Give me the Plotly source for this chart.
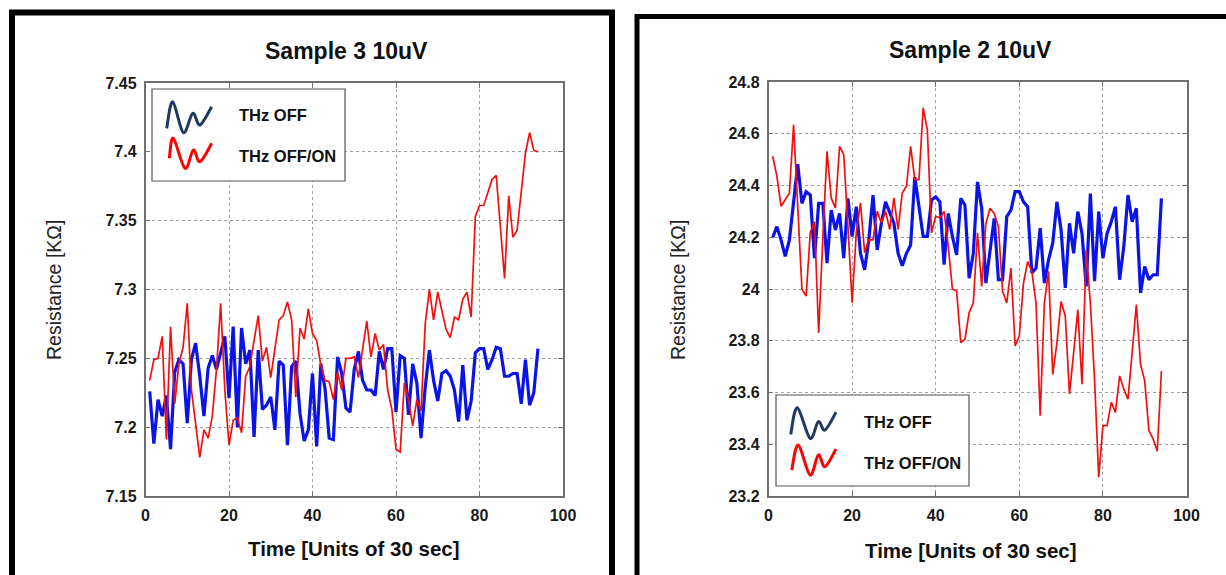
import plotly.graph_objects as go

W, H = 1226, 575

# ---------------- data ----------------
time_idx = list(range(1, 95))

s3_thz_off = [
    7.226, 7.188, 7.220, 7.208, 7.223, 7.184, 7.240, 7.249, 7.246, 7.203,
    7.249, 7.261, 7.237, 7.208, 7.243, 7.252, 7.242, 7.255, 7.266, 7.221,
    7.273, 7.200, 7.272, 7.246, 7.256, 7.193, 7.256, 7.213, 7.216, 7.222,
    7.198, 7.248, 7.245, 7.187, 7.244, 7.248, 7.210, 7.190, 7.198, 7.239,
    7.186, 7.246, 7.228, 7.192, 7.191, 7.251, 7.239, 7.214, 7.211, 7.242,
    7.255, 7.234, 7.227, 7.227, 7.223, 7.255, 7.242, 7.257, 7.257, 7.211,
    7.252, 7.250, 7.209, 7.246, 7.232, 7.192, 7.229, 7.256, 7.234, 7.219,
    7.239, 7.241, 7.237, 7.227, 7.204, 7.245, 7.205, 7.219, 7.254, 7.257,
    7.257, 7.242, 7.249, 7.258, 7.257, 7.237, 7.237, 7.239, 7.239, 7.217,
    7.249, 7.216, 7.225, 7.257,
]
s3_thz_offon = [
    7.234, 7.249, 7.250, 7.266, 7.191, 7.273, 7.217, 7.246, 7.258, 7.290,
    7.227, 7.203, 7.178, 7.198, 7.192, 7.208, 7.242, 7.290, 7.227, 7.187,
    7.205, 7.207, 7.196, 7.237, 7.244, 7.263, 7.281, 7.248, 7.258, 7.236,
    7.256, 7.278, 7.281, 7.291, 7.278, 7.222, 7.272, 7.264, 7.286, 7.268,
    7.263, 7.245, 7.234, 7.233, 7.220, 7.240, 7.227, 7.250, 7.250, 7.251,
    7.236, 7.258, 7.277, 7.251, 7.268, 7.256, 7.260, 7.227, 7.213, 7.184,
    7.182, 7.232, 7.220, 7.201, 7.220, 7.212, 7.275, 7.300, 7.278, 7.298,
    7.285, 7.271, 7.265, 7.280, 7.278, 7.293, 7.298, 7.280, 7.353, 7.361,
    7.361, 7.370, 7.380, 7.383, 7.348, 7.308, 7.368, 7.338, 7.343, 7.372,
    7.399, 7.414, 7.401, 7.400,
]
s2_thz_off = [
    24.199, 24.241, 24.190, 24.126, 24.190, 24.344, 24.482, 24.331, 24.376, 24.363,
    24.119, 24.331, 24.331, 24.100, 24.305, 24.228, 24.292, 24.119, 24.350, 24.203,
    24.318, 24.138, 24.074, 24.190, 24.363, 24.151, 24.254, 24.337, 24.299, 24.254,
    24.138, 24.090, 24.138, 24.170, 24.433, 24.324, 24.203, 24.203, 24.344, 24.356,
    24.337, 24.094, 24.292, 24.203, 24.132, 24.350, 24.324, 24.042, 24.138, 24.414,
    24.312, 24.023, 24.158, 24.273, 24.036, 24.036, 24.280, 24.305, 24.376, 24.376,
    24.337, 24.318, 24.062, 24.081, 24.235, 24.023, 24.113, 24.177, 24.337, 24.228,
    24.004, 24.254, 24.138, 24.299, 24.215, 24.010, 24.369, 24.030, 24.299, 24.119,
    24.215, 24.260, 24.318, 24.036, 24.164, 24.363, 24.260, 24.312, 23.985, 24.087,
    24.036, 24.055, 24.055, 24.350,
]
s2_thz_offon = [
    24.513, 24.436, 24.320, 24.346, 24.371, 24.635, 24.300, 23.999, 23.973, 24.220,
    24.260, 23.830, 24.200, 24.532, 24.352, 24.313, 24.551, 24.519, 24.243, 23.947,
    24.217, 24.333, 24.140, 24.191, 24.190, 24.300, 24.256, 24.300, 24.230, 24.352,
    24.230, 24.371, 24.397, 24.551, 24.423, 24.423, 24.700, 24.615, 24.217, 24.281,
    24.275, 24.300, 24.166, 23.999, 23.992, 23.793, 23.806, 23.909, 23.947, 24.217,
    24.010, 24.254, 24.312, 24.292, 24.241, 23.991, 23.946, 24.081, 23.780, 23.818,
    24.023, 24.106, 24.068, 23.946, 23.510, 23.946, 24.068, 23.670, 23.792, 23.952,
    23.895, 23.594, 23.754, 23.920, 23.632, 24.151, 23.946, 23.651, 23.273, 23.472,
    23.472, 23.562, 23.523, 23.664, 23.613, 23.574, 23.754, 23.940, 23.709, 23.645,
    23.453, 23.421, 23.373, 23.683,
]

x_ticks = [0, 20, 40, 60, 80, 100]
s3_yticks = [7.15, 7.2, 7.25, 7.3, 7.35, 7.4, 7.45]
s3_yticklabels = ["7.15", "7.2", "7.25", "7.3", "7.35", "7.4", "7.45"]
s2_yticks = [23.2, 23.4, 23.6, 23.8, 24.0, 24.2, 24.4, 24.6, 24.8]
s2_yticklabels = ["23.2", "23.4", "23.6", "23.8", "24", "24.2", "24.4", "24.6", "24.8"]

titles = ["Sample 3 10uV", "Sample 2 10uV"]
legend_labels = ["THz OFF", "THz OFF/ON"]
x_title = "Time [Units of 30 sec]"
y_title = "Resistance [KΩ]"

# ---------------- helpers ----------------
def px(x):
    return x / W

def py(y):
    return 1 - y / H

BLUE = "#0a14e6"
RED = "#f01010"
NAVY = "#1f3a60"
FONT = "Liberation Sans"

def smooth_path(pts):
    P = [(px(a), py(b)) for a, b in pts]
    d = "M %.5f,%.5f" % P[0]
    for i in range(len(P) - 1):
        p0 = P[i - 1] if i > 0 else P[i]
        p1, p2 = P[i], P[i + 1]
        p3 = P[i + 2] if i + 2 < len(P) else P[i + 1]
        c1 = (p1[0] + (p2[0] - p0[0]) / 6, p1[1] + (p2[1] - p0[1]) / 6)
        c2 = (p2[0] - (p3[0] - p1[0]) / 6, p2[1] - (p3[1] - p1[1]) / 6)
        d += " C %.5f,%.5f %.5f,%.5f %.5f,%.5f" % (c1 + c2 + p2)
    return d

fig = go.Figure()

fig.add_trace(go.Scatter(x=time_idx, y=s3_thz_off, mode="lines", name=legend_labels[0],
                         line=dict(color=BLUE, width=3.2), xaxis="x", yaxis="y", showlegend=False))
fig.add_trace(go.Scatter(x=time_idx, y=s3_thz_offon, mode="lines", name=legend_labels[1],
                         line=dict(color=RED, width=1.7), xaxis="x", yaxis="y", showlegend=False))
fig.add_trace(go.Scatter(x=time_idx, y=s2_thz_off, mode="lines", name=legend_labels[0],
                         line=dict(color=BLUE, width=3.2), xaxis="x2", yaxis="y2", showlegend=False))
fig.add_trace(go.Scatter(x=time_idx, y=s2_thz_offon, mode="lines", name=legend_labels[1],
                         line=dict(color=RED, width=1.7), xaxis="x2", yaxis="y2", showlegend=False))

tickfont = dict(family=FONT, size=16, color="#1a1a1a", weight="bold")
axis_common = dict(showgrid=True, gridcolor="#a0a0a0", griddash="dot", gridwidth=1,
                   showline=True, linecolor="#707070", linewidth=1.5, mirror="ticks",
                   ticks="inside", ticklen=5, tickcolor="#707070", tickfont=tickfont,
                   zeroline=False, automargin=False)

fig.update_layout(
    width=W, height=H,
    margin=dict(l=0, r=0, t=0, b=0, autoexpand=False),
    paper_bgcolor="white", plot_bgcolor="white",
    xaxis=dict(domain=[px(145.5), px(563)], range=[0, 100], tickvals=x_ticks,
               anchor="y", ticklabelstandoff=4, **axis_common),
    yaxis=dict(domain=[py(496), py(83)], range=[7.15, 7.45], tickvals=s3_yticks,
               ticktext=s3_yticklabels, anchor="x", ticklabelstandoff=4, **axis_common),
    xaxis2=dict(domain=[px(768.5), px(1186.5)], range=[0, 100], tickvals=x_ticks,
                anchor="y2", ticklabelstandoff=4, **axis_common),
    yaxis2=dict(domain=[py(496), py(82)], range=[23.2, 24.8], tickvals=s2_yticks,
                ticktext=s2_yticklabels, anchor="x2", ticklabelstandoff=4, **axis_common),
)

shapes = []
# panel frames
shapes.append(dict(type="rect", xref="paper", yref="paper", x0=px(12), x1=px(612),
                   y0=py(620), y1=py(12.5), line=dict(color="black", width=6)))
shapes.append(dict(type="rect", xref="paper", yref="paper", x0=px(637), x1=px(1250),
                   y0=py(620), y1=py(16.5), line=dict(color="black", width=5)))
# legend boxes
shapes.append(dict(type="rect", xref="paper", yref="paper", x0=px(152), x1=px(345),
                   y0=py(181), y1=py(89), line=dict(color="#555555", width=1.2),
                   fillcolor="white", layer="above"))
shapes.append(dict(type="rect", xref="paper", yref="paper", x0=px(776), x1=px(969),
                   y0=py(486), y1=py(395), line=dict(color="#555555", width=1.2),
                   fillcolor="white", layer="above"))

icons = [
    ([(166.7, 128.3), (172.7, 101.7), (183.3, 132.7), (192.7, 113.3), (200, 125), (211.7, 106.7)], NAVY),
    ([(169.3, 158.3), (173.3, 138.3), (185, 168.3), (193.3, 150), (200, 161.7), (211.7, 143.3)], "#ff0000"),
    ([(790.7, 434.3), (797.3, 407.7), (810, 438.3), (818.3, 421.7), (825, 430), (836, 412.3)], NAVY),
    ([(791.7, 470), (798.3, 445), (810, 475), (818.3, 455), (825, 466.7), (836, 449)], "#ff0000"),
]
for pts, col in icons:
    shapes.append(dict(type="path", xref="paper", yref="paper", path=smooth_path(pts),
                       line=dict(color=col, width=3), layer="above"))
fig.update_layout(shapes=shapes)

ann = []
def text(x, y, s, size, bold=True, angle=0, xanchor="center", color="#111111"):
    ann.append(dict(x=px(x), y=py(y), xref="paper", yref="paper", text=s, showarrow=False,
                    xanchor=xanchor, yanchor="middle", textangle=angle,
                    font=dict(family=FONT, size=size, color=color,
                              weight="bold" if bold else "normal")))

text(346, 51, titles[0], 23)
text(970, 50, titles[1], 23)
text(354, 548, x_title, 20.5)
text(971, 550, x_title, 20.5)
text(54, 290, y_title, 19.5, bold=False, angle=-90, color="#222222")
text(678, 290, y_title, 19.5, bold=False, angle=-90, color="#222222")
text(237, 115, legend_labels[0], 16.5, xanchor="left")
text(237, 156, legend_labels[1], 16.5, xanchor="left")
text(862, 422, legend_labels[0], 16.5, xanchor="left")
text(862, 463, legend_labels[1], 16.5, xanchor="left")
fig.update_layout(annotations=ann)

fig.write_html("out.html",
               config={"displayModeBar": False},
               post_script="document.body.style.margin='0';document.body.style.overflow='hidden';")
